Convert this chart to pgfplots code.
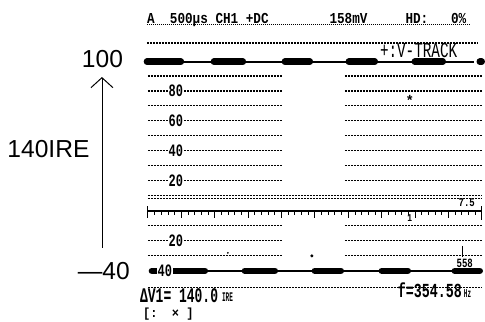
\documentclass[border=0pt]{standalone}
\usepackage{fontspec}
\setmainfont{Liberation Sans}
\newfontfamily\crtfont{Liberation Mono}
\usepackage{graphicx}
\usepackage{pgfplots}
\pgfplotsset{compat=1.18}
\usetikzlibrary{arrows.meta}
\tikzset{lab/.style={fill=white, inner sep=1pt, font=\crtfont\bfseries\fontsize{12}{12}\selectfont}}
\begin{document}
\begin{tikzpicture}
\pgfplotsset{grat/.style={black, line width=1.1pt, dash pattern=on 2.2pt off 0.8pt}}
\begin{axis}[
  scale only axis, width=485pt, height=322pt,
  xmin=0, xmax=485, ymin=-74, ymax=140.667,
  hide axis, clip=false, unbounded coords=jump,
]
\path (rel axis cs:0,0) rectangle (rel axis cs:1,1);
% graticule lines with a gap in the middle
\pgfplotsinvokeforeach{90,80,70,60,50,40,30,20,-10,-20,-30}{
  \addplot[grat] coordinates {(148,#1) (282,#1)};
  \addplot[grat] coordinates {(345,#1) (482,#1)};
}
% full-width lines
\addplot[grat] coordinates {(147,112) (478,112)};
\addplot[grat] coordinates {(148,10.5) (482,10.5)};
\addplot[grat] coordinates {(148,8) (482,8)};
\addplot[grat] coordinates {(148,-51.3) (482,-51.3)};
% zero line with ticks
\addplot[black, line width=1.3pt] coordinates {(148,0) (482,0)};
\addplot[black, line width=0.8pt, ycomb] coordinates {
(154.7,-3)(161.4,-3)(168.0,-3)(174.7,-3)(188.1,-3)(194.8,-3)(201.4,-3)(208.1,-3)
(221.5,-3)(228.2,-3)(234.8,-3)(241.5,-3)(254.9,-3)(261.6,-3)(268.2,-3)(274.9,-3)
(288.3,-3)(295.0,-3)(301.6,-3)(308.3,-3)(321.7,-3)(328.4,-3)(335.0,-3)(341.7,-3)
(355.1,-3)(361.8,-3)(368.4,-3)(375.1,-3)(388.5,-3)(395.2,-3)(401.8,-3)(408.5,-3)
(421.9,-3)(428.6,-3)(435.2,-3)(441.9,-3)(455.3,-3)(462.0,-3)(468.6,-3)(475.3,-3)};
\addplot[black, line width=0.9pt, ycomb] coordinates {
(148,-5)(181.4,-5)(214.8,-5)(248.2,-5)(281.6,-5)(315,-5)(348.4,-5)(381.8,-5)(415.2,-5)(448.6,-5)(482,-6)};
\addplot[black, line width=0.9pt, ycomb] coordinates {(148,3)(482,3)};
% trace at 100 IRE
\addplot[black, line width=1.8pt] coordinates {(145,99.5) (474,99.5)};
\addplot[black, line width=6.5pt, line cap=round] coordinates {
(147,99.5)(181,99.5)(190,nan)(214,99.5)(243,99.5)(250,nan)(285,99.5)(310,99.5)(320,nan)
(349,99.5)(375,99.5)(380,nan)(415,99.5)(443,99.5)(450,nan)(480,99.5)(482,99.5)};
% trace at -40 IRE
\addplot[black, line width=1.8pt] coordinates {(150,-40) (482,-40)};
\addplot[black, line width=6.5pt, line cap=round] coordinates {
(152,-40)(205,-40)(220,nan)(245,-40)(275,-40)(290,nan)(315,-40)(341,-40)(350,nan)
(382,-40)(408,-40)(420,nan)(455,-40)(480,-40)};
% IRE labels on graticule
\node[lab] at (axis cs:176,80) {\scalebox{1}[1.45]{80}};
\node[lab] at (axis cs:176,60) {\scalebox{1}[1.45]{60}};
\node[lab] at (axis cs:176,40) {\scalebox{1}[1.45]{40}};
\node[lab] at (axis cs:176,20) {\scalebox{1}[1.45]{20}};
\node[lab] at (axis cs:176,-20) {\scalebox{1}[1.45]{20}};
\node[lab] at (axis cs:165,-40) {\scalebox{1}[1.45]{40}};
% small marks
\node[font=\crtfont\bfseries\fontsize{9}{9}\selectfont, inner sep=0] at (axis cs:467,5.3) {\scalebox{1}[1.3]{7.5}};
\node[font=\crtfont\bfseries\fontsize{8}{8}\selectfont, inner sep=0] at (axis cs:410,-4.7) {\scalebox{1}[1.3]{1}};
\node[font=\crtfont\bfseries\fontsize{14}{14}\selectfont, inner sep=0] at (axis cs:410,74) {*};
\node[font=\crtfont\bfseries\fontsize{9}{9}\selectfont, inner sep=0] at (axis cs:465,-34.7) {\scalebox{1}[1.4]{558}};
\addplot[black, line width=1.2pt] coordinates {(463,-23.3) (463,-31)};
\addplot[only marks, mark=*, mark size=1.3pt, black] coordinates {(312,-30)};
\addplot[only marks, mark=*, mark size=0.7pt, black] coordinates {(228,-28)};
% left annotations
\node[font=\fontsize{24.6}{26}\selectfont, inner sep=0] at (axis cs:102.5,101.3) {100};
\node[font=\fontsize{24.6}{26}\selectfont, inner sep=0] at (axis cs:48.5,41.3) {140IRE};
\node[font=\fontsize{24.6}{26}\selectfont, inner sep=0, anchor=east] at (axis cs:130,-40) {—40};
\addplot[black, line width=0.8pt, -{Straight Barb[length=10pt, width=22pt, line width=1pt]}] coordinates {(102,-24.7) (102,89.3)};
% top status line
\node[anchor=base west, inner sep=0, font=\crtfont\bfseries\fontsize{12.67}{14}\selectfont] at (axis cs:147,125.3)
  {\scalebox{1}[1.2]{A~~500μs~CH1~+DC~~~~~~~~158mV~~~~~HD:~~~0\%}};
\addplot[black, line width=0.8pt, dash pattern=on 1.2pt off 0.8pt] coordinates {(147,124.3) (470,124.3)};
\node[anchor=base west, inner sep=0, font=\crtfont\fontsize{14.3}{15}\selectfont] at (axis cs:380,102.5)
  {\scalebox{1}[1.5]{+:V-TRACK}};
% bottom readouts
\node[anchor=base west, inner sep=0, font=\crtfont\bfseries\fontsize{13}{14}\selectfont] at (axis cs:140,-61.3)
  {\scalebox{1}[1.6]{ΔV1=~140.0}};
\node[anchor=base west, inner sep=0, font=\crtfont\bfseries\fontsize{6}{6}\selectfont] at (axis cs:222,-60.5)
  {\scalebox{1}[2.2]{IRE}};
\node[anchor=base west, inner sep=0, font=\crtfont\bfseries\fontsize{12}{12}\selectfont] at (axis cs:143,-71)
  {\scalebox{1}[1.1]{[:~~×~]}};
\node[anchor=base west, inner sep=0, font=\crtfont\bfseries\fontsize{13.3}{14}\selectfont] at (axis cs:398,-58)
  {\scalebox{1}[1.5]{f=354.58}};
\node[anchor=base west, inner sep=0, font=\crtfont\bfseries\fontsize{6}{6}\selectfont] at (axis cs:464,-57.5)
  {\scalebox{1}[2.0]{Hz}};
\end{axis}
\end{tikzpicture}
\end{document}
